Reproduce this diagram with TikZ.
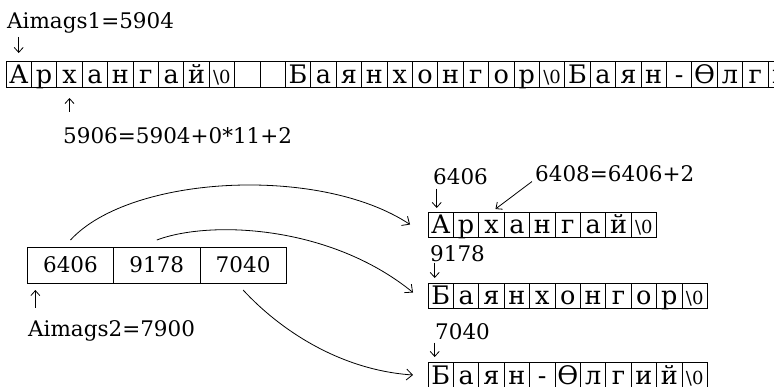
\documentclass[tikz,border=0pt]{standalone}
\usepackage{fontspec}
\setmainfont{DejaVu Serif}
\usepackage{tikz}
\usetikzlibrary{arrows.meta,positioning}

\newcommand{\lblsize}{\fontsize{21.5}{21.5}\selectfont}
\newcommand{\cellsize}{\fontsize{25.5}{25.5}\selectfont}
\newcommand{\strend}{{\fontsize{18}{18}\selectfont\textbackslash0}}

\begin{document}
\begin{tikzpicture}[
    x=1pt, y=-1pt,
    font=\lblsize,
    >={Straight Barb[length=5pt,width=9pt]},
    % Define styles for the cells and labels
    cell/.style={rectangle, draw=black, line width=0.8pt, minimum width=25.4pt, minimum height=26pt, inner sep=0pt, outer sep=0pt, text height=18.5pt, text depth=0pt, font=\cellsize},
    ptrcell/.style={rectangle, draw=black, line width=0.8pt, minimum width=86.3pt, minimum height=36pt, inner sep=0pt, outer sep=0pt},
    lbl/.style={anchor=base west, inner sep=0pt, font=\lblsize},
    tick/.style={->, line width=0.8pt},
    link/.style={-{Straight Barb[length=6pt,width=11pt]}, line width=0.8pt}
]
\clip (0,0) rectangle (774,386);

% ==========================================
% Top: the array Aimags1 (11 bytes per name)
% ==========================================
\node[lbl] (a1) at (7,28) {Aimags1=5904};
\foreach \ch [count=\i from 0] in {А,р,х,а,н,г,а,й,\strend,{},{},Б,а,я,н,х,о,н,г,о,р,\strend,Б,а,я,н,-,Ө,л,г,и,й,\strend}
    \node[cell] (t\i) at ({18.7+25.4*\i},74) {\ch};
\node[lbl] (p1) at (63,143) {5906=5904+0*11+2};

\draw[tick, shorten <=4pt, shorten >=8pt] (a1.south -| t0.north) -- (t0.north);
\draw[tick, shorten <=15pt, shorten >=11pt] (p1.north -| t2.south) -- (t2.south);

% ==========================================
% Bottom left: the array of pointers Aimags2
% ==========================================
\node[ptrcell] (arr0) at (70.5,265) {6406};
\node[ptrcell, right=0pt of arr0] (arr1) {9178};
\node[ptrcell, right=0pt of arr1] (arr2) {7040};
\node[lbl] (a2) at (28,336) {Aimags2=7900};

\draw[tick, shorten <=12pt, shorten >=7pt] ([xshift=8pt]arr0.south west |- a2.north) -- ([xshift=8pt]arr0.south west);

% ==========================================
% Bottom right: the three strings
% ==========================================
\foreach \ch [count=\i from 0] in {А,р,х,а,н,г,а,й,\strend}
    \node[cell, minimum height=25pt] (sa\i) at ({440.7+25.4*\i},224.5) {\ch};
\foreach \ch [count=\i from 0] in {Б,а,я,н,х,о,н,г,о,р,\strend}
    \node[cell, minimum height=25pt] (sb\i) at ({440.7+25.4*\i},295.5) {\ch};
\foreach \ch [count=\i from 0] in {Б,а,я,н,-,Ө,л,г,и,й,\strend}
    \node[cell] (sc\i) at ({440.7+25.4*\i},375) {\ch};

\node[lbl] (n1) at (433,184) {6406};
\node[lbl] (n1b) at (535,181) {6408=6406+2};
\node[lbl] (n2) at (430,261) {9178};
\node[lbl] (n3) at (435,339) {7040};

\draw[tick, shorten <=4pt, shorten >=4pt] ([xshift=-4pt]sa0.north |- n1.south) -- ([xshift=-4pt]sa0.north);
\draw[tick, shorten >=5pt] ([xshift=-3pt]n1b.south west) -- (sa2.north);
\draw[tick, shorten <=1pt, shorten >=5pt] ([xshift=-6pt]sb0.north |- n2.south) -- ([xshift=-6pt]sb0.north);
\draw[tick, shorten <=3pt, shorten >=5pt] ([xshift=-6pt]sc0.north |- n3.south) -- ([xshift=-6pt]sc0.north);

% Route each pointer to its string
\draw[link] ([yshift=7pt]arr0.north) .. controls (130,175) and (320,165) .. ([xshift=-18pt]sa0.west);
\draw[link] ([yshift=7pt]arr1.north) .. controls (210,220) and (330,225) .. ([xshift=-15pt,yshift=3pt]sb0.west);
\draw[link] ([yshift=-7pt]arr2.south) .. controls (280,330) and (340,370) .. ([xshift=-15pt]sc0.west);

\end{tikzpicture}
\end{document}
